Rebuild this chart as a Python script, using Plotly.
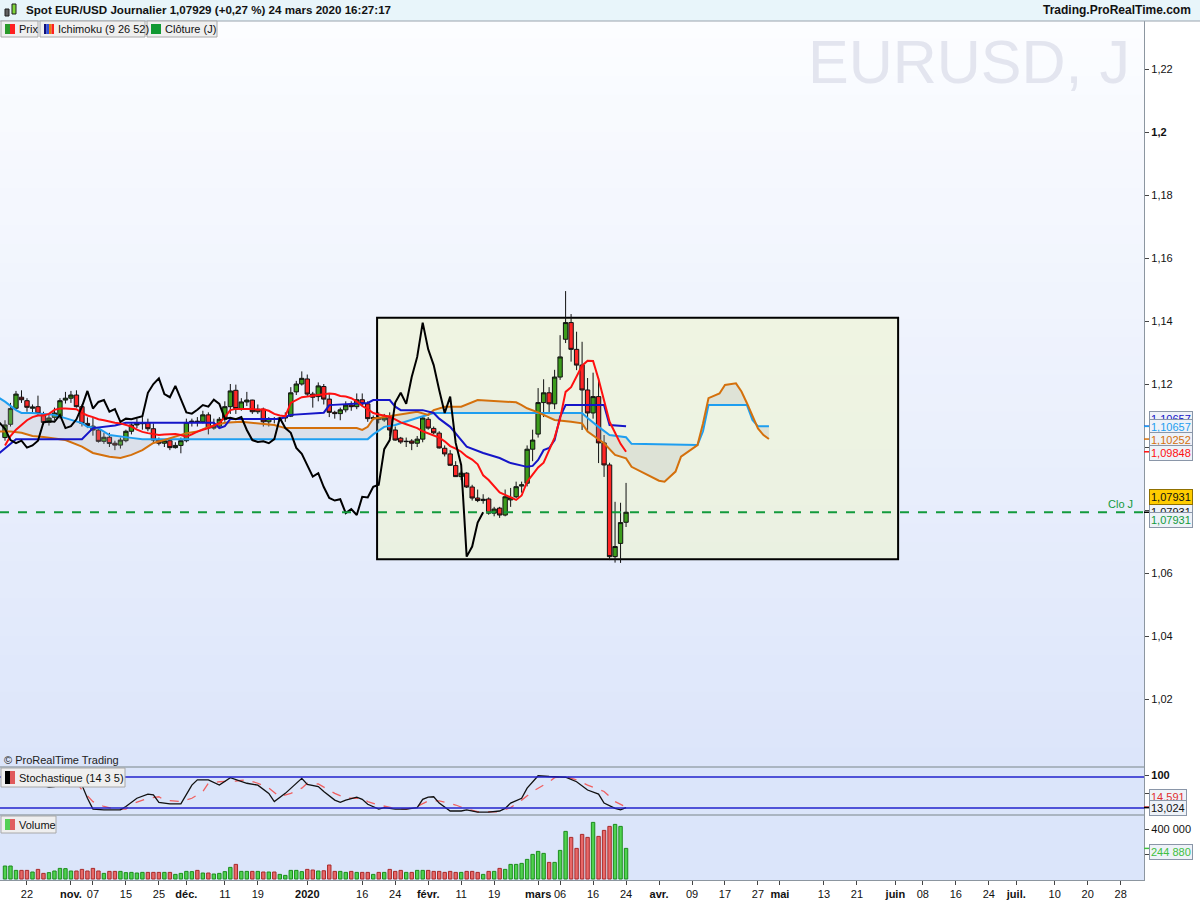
import pandas as pd
import plotly.graph_objects as go

# ---------------- DATA ----------------
# trading days (weekdays, 1 Jan 2020 closed); bar 0 = 16 Oct 2019, bar 113 = 24 Mar 2020
DAYS = [d for d in pd.bdate_range("2019-10-16", "2020-07-31") if d != pd.Timestamp("2020-01-01")]

OPEN = [1.1030, 1.1072, 1.1123, 1.1158, 1.1147, 1.1123, 1.1128, 1.1102, 1.1078, 1.1094,
        1.1096, 1.1149, 1.1155, 1.1165, 1.1128, 1.1075, 1.1066, 1.1054, 1.1018, 1.1031,
        1.1012, 1.1006, 1.1020, 1.1050, 1.1070, 1.1074, 1.1077, 1.1058, 1.1022, 1.1012,
        1.1020, 1.0998, 1.1005, 1.1020, 1.1078, 1.1082, 1.1080, 1.1102, 1.1060, 1.1066,
        1.1088, 1.1128, 1.1180, 1.1122, 1.1143, 1.1149, 1.1112, 1.1120, 1.1080, 1.1090,
        1.1088, 1.1092, 1.1098, 1.1175, 1.1200, 1.1216, 1.1168, 1.1160, 1.1192, 1.1152,
        1.1110, 1.1106, 1.1118, 1.1133, 1.1128, 1.1150, 1.1137, 1.1090, 1.1093, 1.1086,
        1.1093, 1.1054, 1.1028, 1.1017, 1.1019, 1.1012, 1.1025, 1.1088, 1.1059, 1.1044,
        1.0996, 1.0978, 1.0941, 1.0906, 1.0917, 1.0873, 1.0838, 1.0830, 1.0835, 1.0790,
        1.0806, 1.0784, 1.0832, 1.0842, 1.0876, 1.0885, 1.0993, 1.1041, 1.1141, 1.1172,
        1.1137, 1.1222, 1.1342, 1.1395, 1.1310, 1.1260, 1.1181, 1.1108, 1.1160, 1.1013,
        1.0943, 1.0652, 1.0694, 1.0761]
HIGH = [1.1085, 1.1140, 1.1178, 1.1180, 1.1155, 1.1135, 1.1163, 1.1112, 1.1105, 1.1125,
        1.1155, 1.1175, 1.1178, 1.1180, 1.1135, 1.1094, 1.1092, 1.1060, 1.1045, 1.1045,
        1.1020, 1.1030, 1.1055, 1.1075, 1.1090, 1.1095, 1.1090, 1.1075, 1.1030, 1.1025,
        1.1025, 1.1015, 1.1030, 1.1090, 1.1090, 1.1095, 1.1115, 1.1110, 1.1090, 1.1095,
        1.1145, 1.1200, 1.1198, 1.1155, 1.1175, 1.1150, 1.1135, 1.1125, 1.1095, 1.1095,
        1.1095, 1.1110, 1.1190, 1.1210, 1.1240, 1.1230, 1.1175, 1.1205, 1.1200, 1.1170,
        1.1115, 1.1125, 1.1145, 1.1145, 1.1170, 1.1170, 1.1145, 1.1100, 1.1110, 1.1105,
        1.1110, 1.1065, 1.1032, 1.1030, 1.1025, 1.1035, 1.1095, 1.1095, 1.1065, 1.1050,
        1.1005, 1.0990, 1.0955, 1.0925, 1.0920, 1.0880, 1.0865, 1.0850, 1.0840, 1.0810,
        1.0810, 1.0865, 1.0870, 1.0890, 1.0890, 1.1005, 1.1055, 1.1187, 1.1215, 1.1190,
        1.1245, 1.1355, 1.1495, 1.1422, 1.1366, 1.1334, 1.1219, 1.1236, 1.1219, 1.1038,
        1.0950, 1.0826, 1.0823, 1.0886]
LOW = [1.1020, 1.1065, 1.1118, 1.1140, 1.1112, 1.1105, 1.1100, 1.1070, 1.1068, 1.1085,
       1.1090, 1.1138, 1.1140, 1.1125, 1.1065, 1.1060, 1.1036, 1.1014, 1.1010, 1.1000,
       1.0990, 1.0995, 1.1015, 1.1040, 1.1060, 1.1055, 1.1050, 1.1015, 1.1005, 1.1000,
       1.0990, 1.0995, 1.0980, 1.1015, 1.1065, 1.1065, 1.1075, 1.1040, 1.1055, 1.1060,
       1.1080, 1.1105, 1.1105, 1.1115, 1.1130, 1.1105, 1.1105, 1.1065, 1.1065, 1.1075,
       1.1082, 1.1080, 1.1095, 1.1165, 1.1195, 1.1160, 1.1125, 1.1145, 1.1135, 1.1095,
       1.1090, 1.1085, 1.1110, 1.1115, 1.1120, 1.1130, 1.1080, 1.1085, 1.1075, 1.1080,
       1.1035, 1.1020, 1.1010, 1.1000, 1.0990, 1.1000, 1.1015, 1.1055, 1.1040, 1.0995,
       1.0970, 1.0940, 1.0905, 1.0895, 1.0870, 1.0830, 1.0825, 1.0820, 1.0785, 1.0780,
       1.0775, 1.0780, 1.0810, 1.0838, 1.0855, 1.0875, 1.0955, 1.1030, 1.1095, 1.1110,
       1.1120, 1.1213, 1.1330, 1.1271, 1.1244, 1.1054, 1.1048, 1.1090, 1.0949, 1.0905,
       1.0641, 1.0633, 1.0632, 1.0746]
CLOSE = [1.1070, 1.1122, 1.1168, 1.1150, 1.1126, 1.1127, 1.1106, 1.1078, 1.1092, 1.1108,
         1.1147, 1.1155, 1.1165, 1.1128, 1.1075, 1.1068, 1.1054, 1.1018, 1.1031, 1.1011,
         1.1006, 1.1022, 1.1050, 1.1070, 1.1076, 1.1077, 1.1058, 1.1022, 1.1012, 1.1020,
         1.0998, 1.1005, 1.1020, 1.1078, 1.1082, 1.1080, 1.1102, 1.1060, 1.1066, 1.1088,
         1.1128, 1.1178, 1.1122, 1.1143, 1.1149, 1.1112, 1.1120, 1.1080, 1.1090, 1.1088,
         1.1092, 1.1098, 1.1172, 1.1200, 1.1218, 1.1168, 1.1158, 1.1194, 1.1152, 1.1110,
         1.1106, 1.1118, 1.1133, 1.1128, 1.1150, 1.1137, 1.1090, 1.1093, 1.1088, 1.1095,
         1.1054, 1.1022, 1.1016, 1.1018, 1.1012, 1.1025, 1.1092, 1.1060, 1.1045, 1.0997,
         1.0978, 1.0942, 1.0906, 1.0917, 1.0873, 1.0838, 1.0830, 1.0834, 1.0790, 1.0803,
         1.0784, 1.0842, 1.0840, 1.0874, 1.0880, 1.0993, 1.1022, 1.1141, 1.1172, 1.1137,
         1.1222, 1.1286, 1.1395, 1.1310, 1.1260, 1.1181, 1.1108, 1.1160, 1.1013, 1.0943,
         1.0652, 1.0684, 1.0760, 1.07929]
VOLUME_K = [104, 104, 69, 69, 69, 56, 77, 45, 51, 64,
            85, 83, 64, 64, 77, 64, 85, 64, 45, 61,
            61, 61, 51, 53, 48, 53, 53, 53, 53, 53,
            53, 37, 45, 61, 59, 69, 48, 48, 40, 45,
            59, 93, 117, 61, 61, 61, 61, 56, 56, 56,
            37, 29, 69, 69, 59, 77, 72, 64, 66, 112,
            61, 61, 53, 61, 53, 53, 53, 37, 53, 53,
            77, 61, 69, 53, 53, 69, 69, 69, 61, 61,
            53, 61, 53, 53, 61, 61, 53, 37, 61, 61,
            85, 77, 117, 117, 125, 157, 197, 221, 205, 133,
            133, 229, 381, 333, 245, 357, 333, 453, 341, 389,
            421, 437, 421, 244.88]

# Ichimoku (9 26 52)
TENKAN = [1.1005, 1.1035, 1.1055, 1.1070, 1.1085, 1.1095, 1.1100, 1.1100, 1.1105, 1.1118,
          1.1122, 1.1122, 1.1122, 1.1120, 1.1108, 1.1100, 1.1095, 1.1088, 1.1085, 1.1080,
          1.1077, 1.1075, 1.1070, 1.1065, 1.1055, 1.1048, 1.1044, 1.1042, 1.1038, 1.1040,
          1.1040, 1.1041, 1.1038, 1.1033, 1.1040, 1.1049, 1.1055, 1.1060, 1.1068, 1.1076,
          1.1095, 1.1117, 1.1121, 1.1121, 1.1121, 1.1121, 1.1118, 1.1120, 1.1115, 1.1105,
          1.1100, 1.1098, 1.1140, 1.1150, 1.1158, 1.1160, 1.1162, 1.1165, 1.1168, 1.1170,
          1.1168, 1.1162, 1.1160, 1.1155, 1.1145, 1.1130, 1.1120, 1.1108, 1.1103, 1.1100,
          1.1096, 1.1088, 1.1078, 1.1072, 1.1065, 1.1060, 1.1050, 1.1043, 1.1035, 1.1030,
          1.1018, 1.1003, 1.0995, 1.0985, 1.0970, 1.0960, 1.0945, 1.0910, 1.0895, 1.0876,
          1.0856, 1.0848, 1.0840, 1.0832, 1.0846, 1.0890, 1.0912, 1.0935, 1.0950, 1.0990,
          1.1030, 1.1090, 1.1175, 1.1190, 1.1225, 1.1258, 1.1274, 1.1273, 1.1215, 1.1150,
          1.1080, 1.1045, 1.1010, 1.09848]
KIJUN_BAR = [-1, 0, 1, 2, 14, 15, 16, 20, 22, 38, 39, 40, 41, 50, 52, 58, 59, 66, 67, 70,
             71, 72, 76, 78, 79, 81, 84, 87, 90, 92, 95, 96, 97, 98, 99, 100, 101, 102, 109, 110, 113]
KIJUN = [1.0981, 1.0995, 1.1010, 1.1025, 1.1025, 1.1044, 1.1060, 1.1068, 1.1077, 1.1077,
         1.1060, 1.1066, 1.1089, 1.1089, 1.1102, 1.1109, 1.1133, 1.1140, 1.1149, 1.1149,
         1.1128, 1.1117, 1.1117, 1.1108, 1.1090, 1.1064, 1.1001, 1.0981, 1.0965, 1.0949,
         1.0937, 1.0940, 1.0959, 1.0990, 1.0997, 1.1022, 1.1096, 1.1133, 1.1133, 1.1070, 1.10657]
SSB_BAR = [-1, 0, 2, 3, 5, 9, 14, 15, 17, 19, 23, 25, 66, 67, 69, 71, 75, 78, 105, 106,
           108, 110, 113, 114, 126, 127, 128, 135, 136, 137, 139]
SSB = [1.1155, 1.1144, 1.1117, 1.1108, 1.1108, 1.1102, 1.1076, 1.1064, 1.1060, 1.1038,
       1.1029, 1.1025, 1.1025, 1.1040, 1.1064, 1.1070, 1.1092, 1.1108, 1.1108, 1.1092,
       1.1064, 1.1038, 1.1031, 1.1010, 1.1006, 1.1050, 1.1133, 1.1133, 1.1086, 1.10657, 1.10657]
SSA_BAR = [-1, 1, 3, 5, 7, 11, 14, 16, 19, 21, 23, 25, 27, 29, 33, 35, 37, 40, 43, 46,
           49, 51, 64, 65, 66, 67, 70, 75, 77, 78, 80, 83, 86, 88, 91, 93, 94, 95, 97, 100,
           103, 105, 106, 109, 111, 113, 114, 117, 119, 120, 121, 122, 123, 125, 126, 127, 128, 130, 131, 133,
           134, 135, 137, 138, 139]
SSA = [1.1049, 1.1049, 1.1045, 1.1035, 1.1032, 1.1022, 1.1001, 1.0981, 1.0969, 1.0965,
       1.0975, 1.0990, 1.1013, 1.1022, 1.1044, 1.1049, 1.1064, 1.1077, 1.1080, 1.1076,
       1.1070, 1.1060, 1.1060, 1.1054, 1.1064, 1.1090, 1.1099, 1.1112, 1.1102, 1.1117,
       1.1128, 1.1128, 1.1149, 1.1147, 1.1144, 1.1142, 1.1133, 1.1123, 1.1110, 1.1086,
       1.1080, 1.1075, 1.1049, 1.1012, 1.0975, 1.0964, 1.0937, 1.0911, 1.0893, 1.0890,
       1.0906, 1.0922, 1.0969, 1.0993, 1.1006, 1.1075, 1.1155, 1.1170, 1.1197, 1.1202,
       1.1176, 1.1139, 1.1059, 1.1038, 1.10252]
CHIKOU_SHIFT = 26
LAST_CLOSE = 1.07929

# Stochastic (14 3 5)
K_BAR = [0, 2, 4, 6, 8, 9, 11, 12, 14, 15, 16, 18, 21, 22, 24, 26, 27, 28, 30, 32,
         34, 35, 37, 39, 41, 44, 46, 48, 49, 51, 54, 55, 57, 58, 60, 61, 62, 64, 65, 66,
         68, 69, 71, 73, 75, 76, 77, 78, 79, 81, 83, 84, 86, 88, 90, 91, 92, 94, 95, 97,
         99, 101, 102, 104, 106, 108, 109, 111, 112, 113]
STOCH_K = [82, 88, 84, 78, 67, 69, 78, 87, 73, 38, 9, 7, 7, 16, 38, 49, 47, 27, 23, 23,
           73, 87, 87, 73, 93, 78, 73, 51, 29, 51, 91, 75, 69, 56, 33, 27, 33, 41, 35, 22,
           9, 13, 9, 9, 13, 35, 41, 42, 25, 4, 4, 7, 1, 1, 4, 11, 25, 38, 65, 98,
           96, 96, 94, 82, 60, 49, 25, 11, 7, 13.024]
D_BAR = [0, 3, 6, 9, 11, 13, 14, 16, 18, 20, 22, 23, 26, 28, 29, 32, 34, 36, 37, 39,
         42, 44, 46, 48, 50, 52, 54, 55, 57, 60, 62, 65, 66, 68, 71, 73, 75, 77, 79, 82,
         84, 86, 90, 92, 94, 96, 99, 100, 102, 104, 106, 109, 111, 113]
STOCH_D = [75, 82, 84, 78, 82, 82, 60, 29, 16, 9, 9, 22, 38, 42, 33, 29, 38, 56, 78, 82,
           84, 87, 78, 65, 42, 51, 65, 78, 76, 51, 38, 38, 29, 20, 11, 9, 16, 31, 31, 20,
           9, 2, 2, 13, 33, 56, 82, 93, 96, 87, 73, 56, 29, 14.591]
STOCH_LEVELS = [94.7, 12.0]

# analysis zone drawn on the chart (bars, prices)
ZONE_BARS = [67.7, 162.5]
ZONE_PRICES = [1.0644, 1.1410]

# axes
TICK_DATES = ["2019-10-22", "2019-11-01", "2019-11-07", "2019-11-15", "2019-11-25", "2019-12-02",
              "2019-12-11", "2019-12-19", "2020-01-02", "2020-01-16", "2020-01-24", "2020-02-03",
              "2020-02-11", "2020-02-19", "2020-03-02", "2020-03-06", "2020-03-16", "2020-03-24",
              "2020-04-01", "2020-04-09", "2020-04-17", "2020-04-27", "2020-05-01", "2020-05-13",
              "2020-05-21", "2020-06-01", "2020-06-08", "2020-06-16", "2020-06-24", "2020-07-01",
              "2020-07-10", "2020-07-20", "2020-07-28"]
TICK_TEXT = ["22", "nov.", "07", "15", "25", "déc.", "11", "19", "2020", "16", "24", "févr.",
             "11", "19", "mars", "06", "16", "24", "avr.", "09", "17", "27", "mai", "13",
             "21", "juin", "08", "16", "24", "juil.", "10", "20", "28"]
BOLD_TICKS = {"nov.", "déc.", "2020", "févr.", "mars", "avr.", "mai", "juin", "juil."}
PRICE_TICKS = [1.02, 1.04, 1.06, 1.08, 1.10, 1.12, 1.14, 1.16, 1.18, 1.20, 1.22]
PRICE_TEXT = ["1,02", "1,04", "1,06", "1,08", "1,1", "1,12", "1,14", "1,16", "1,18", "<b>1,2</b>", "1,22"]
VOL_TICKS = [200000, 400000]
VOL_TEXT = ["200 000", "400 000"]

# ---------------- LAYOUT HELPERS (pixels -> paper) ----------------
FONT = "Liberation Sans, Arial, sans-serif"
PLOT_W = 1144.0
TOP, BOT = 21.0, 880.0
H = BOT - TOP


def PX(px):
    return px / PLOT_W


def PY(py):
    return (BOT - py) / H


MAIN_BOTTOM_PX, STOCH_BOTTOM_PX = 767.0, 815.0

bars = list(range(len(OPEN)))
volume = [v * 1000 for v in VOLUME_K]
up = [c >= o for o, c in zip(OPEN, CLOSE)]
tick_pos = [DAYS.index(pd.Timestamp(d)) for d in TICK_DATES]
tick_txt = ["<b>%s</b>" % t if t in BOLD_TICKS else t for t in TICK_TEXT]

fig = go.Figure()

# kumo (senkou B then senkou A filled to it)
fig.add_trace(go.Scatter(x=SSB_BAR, y=SSB, mode="lines", line=dict(color="#1e9ef0", width=2),
                         xaxis="x", yaxis="y", hoverinfo="skip", showlegend=False))
fig.add_trace(go.Scatter(x=SSA_BAR, y=SSA, mode="lines", line=dict(color="#d4700c", width=2),
                         fill="tonexty", fillcolor="rgba(170,170,175,0.22)",
                         xaxis="x", yaxis="y", hoverinfo="skip", showlegend=False))

# candles
fig.add_trace(go.Candlestick(x=bars, open=OPEN, high=HIGH, low=LOW, close=CLOSE,
                             increasing=dict(fillcolor="#3c9c1c", line=dict(color="#111111", width=1)),
                             decreasing=dict(fillcolor="#ff2626", line=dict(color="#111111", width=1)),
                             whiskerwidth=0, xaxis="x", yaxis="y", hoverinfo="skip", showlegend=False))

# kijun, tenkan, chikou
fig.add_trace(go.Scatter(x=KIJUN_BAR, y=KIJUN, mode="lines", line=dict(color="#1515c8", width=2),
                         xaxis="x", yaxis="y", hoverinfo="skip", showlegend=False))
fig.add_trace(go.Scatter(x=bars, y=TENKAN, mode="lines", line=dict(color="#ff1010", width=2),
                         xaxis="x", yaxis="y", hoverinfo="skip", showlegend=False))
fig.add_trace(go.Scatter(x=[b - CHIKOU_SHIFT for b in bars], y=CLOSE, mode="lines",
                         line=dict(color="#000000", width=2),
                         xaxis="x", yaxis="y", hoverinfo="skip", showlegend=False))

# stochastic
fig.add_trace(go.Scatter(x=D_BAR, y=STOCH_D, mode="lines", line=dict(color="#f06060", width=1.3, dash="dash"),
                         xaxis="x", yaxis="y2", hoverinfo="skip", showlegend=False))
fig.add_trace(go.Scatter(x=K_BAR, y=STOCH_K, mode="lines", line=dict(color="#111111", width=1.3),
                         xaxis="x", yaxis="y2", hoverinfo="skip", showlegend=False))

# volume
fig.add_trace(go.Bar(x=bars, y=volume, width=0.62,
                     marker=dict(color=["#4fd24f" if u else "#e86868" for u in up],
                                 line=dict(color=["#1c8c1c" if u else "#a82a2a" for u in up], width=1)),
                     xaxis="x", yaxis="y3", hoverinfo="skip", showlegend=False))

shapes = []
# background gradient for the price panel
N_BANDS = 40
c0, c1 = (252, 253, 255), (220, 229, 250)
for k in range(N_BANDS):
    t = (k + 0.5) / N_BANDS
    col = tuple(round(c0[j] + (c1[j] - c0[j]) * t) for j in range(3))
    ya = TOP + (MAIN_BOTTOM_PX - TOP) * k / N_BANDS
    yb = TOP + (MAIN_BOTTOM_PX - TOP) * (k + 1) / N_BANDS
    shapes.append(dict(type="rect", xref="paper", yref="paper", x0=0, x1=1, y0=PY(yb), y1=PY(ya) + 0.001,
                       fillcolor="rgb(%d,%d,%d)" % col, line=dict(width=0), layer="below"))

# analysis zone
shapes.append(dict(type="rect", xref="x", yref="y", x0=ZONE_BARS[0], x1=ZONE_BARS[1],
                   y0=ZONE_PRICES[0], y1=ZONE_PRICES[1], fillcolor="rgba(240,246,200,0.5)",
                   line=dict(color="#000000", width=2), layer="below"))

# closing line
shapes.append(dict(type="line", xref="paper", yref="y", x0=0, x1=1, y0=LAST_CLOSE, y1=LAST_CLOSE,
                   line=dict(color="#139a3c", width=2, dash="dash")))

# stochastic levels
for lv in STOCH_LEVELS:
    shapes.append(dict(type="line", xref="paper", yref="y2", x0=0, x1=1, y0=lv, y1=lv,
                       line=dict(color="#2222cc", width=1.3)))

# panel separators
for py in (MAIN_BOTTOM_PX, STOCH_BOTTOM_PX):
    shapes.append(dict(type="line", xref="paper", yref="paper", x0=0, x1=1, y0=PY(py), y1=PY(py),
                       line=dict(color="#9aa4ae", width=1.5)))

# header band
shapes.append(dict(type="rect", xref="paper", yref="paper", x0=0, x1=1200 / PLOT_W, y0=PY(21), y1=PY(0),
                   fillcolor="#e8f5fa", line=dict(width=0)))
shapes.append(dict(type="line", xref="paper", yref="paper", x0=0, x1=1200 / PLOT_W, y0=PY(21), y1=PY(21),
                   line=dict(color="#9aa4ae", width=1.2)))
# header icon
shapes.append(dict(type="rect", xref="paper", yref="paper", x0=PX(5), x1=PX(9), y0=PY(16), y1=PY(9),
                   fillcolor="#606060", line=dict(color="#202020", width=1)))
shapes.append(dict(type="rect", xref="paper", yref="paper", x0=PX(12), x1=PX(16), y0=PY(14), y1=PY(4),
                   fillcolor="#7fd63a", line=dict(color="#202020", width=1)))


def label_box(x0, x1, y0, y1, icon_cols):
    shapes.append(dict(type="rect", xref="paper", yref="paper", x0=PX(x0), x1=PX(x1), y0=PY(y1), y1=PY(y0),
                       fillcolor="#efefef", line=dict(color="#a8a8a8", width=1)))
    n = len(icon_cols)
    w = 10.0 / n
    for i, c in enumerate(icon_cols):
        shapes.append(dict(type="rect", xref="paper", yref="paper",
                           x0=PX(x0 + 4 + i * w), x1=PX(x0 + 4 + (i + 1) * w),
                           y0=PY(y1 - 3), y1=PY(y0 + 3), fillcolor=c, line=dict(width=0)))


label_box(1, 38, 21, 37, ["#2a9a2a", "#ff2020"])
label_box(40, 145, 21, 37, ["#10107a", "#3050e0", "#e08010", "#ff2020"])
label_box(147, 217, 21, 37, ["#119933"])
label_box(1, 125, 768, 787, ["#000000", "#e05a5a"])
label_box(1, 56, 816, 833, ["#55d055", "#e06060"])

# value markers on the right axis
for val, col, yr in [(KIJUN[-1], "#1515c8", "y"), (SSB[-1], "#1e9ef0", "y"), (SSA[-1], "#d4700c", "y"),
                     (TENKAN[-1], "#ff1010", "y"), (LAST_CLOSE, "#000000", "y"),
                     (STOCH_D[-1], "#e03030", "y2"), (STOCH_K[-1], "#000000", "y2"),
                     (volume[-1], "#40c040", "y3")]:
    shapes.append(dict(type="line", xref="paper", yref=yr, x0=1.0, x1=PX(1150), y0=val, y1=val,
                       line=dict(color=col, width=1.5)))

ann = []
ann.append(dict(xref="paper", yref="paper", x=PX(24), y=PY(10), xanchor="left", yanchor="middle",
                text="<b>Spot EUR/USD Journalier 1,07929 (+0,27 %) 24 mars 2020 16:27:17</b>",
                showarrow=False, font=dict(family=FONT, size=11.6, color="#111111")))
ann.append(dict(xref="paper", yref="paper", x=PX(1193), y=PY(10), xanchor="right", yanchor="middle",
                text="<b>Trading.ProRealTime.com</b>", showarrow=False,
                font=dict(family=FONT, size=12, color="#111111")))
for tx, xx, yy in [("Prix", 17, 29), ("Ichimoku (9 26 52)", 56, 29), ("Clôture (J)", 163, 29),
                   ("Stochastique (14 3 5)", 17, 777.5), ("Volume", 17, 824.5)]:
    ann.append(dict(xref="paper", yref="paper", x=PX(xx), y=PY(yy), xanchor="left", yanchor="middle",
                    text=tx, showarrow=False, font=dict(family=FONT, size=11, color="#111111")))
ann.append(dict(xref="paper", yref="paper", x=PX(2), y=PY(760), xanchor="left", yanchor="middle",
                text="© ProRealTime Trading", showarrow=False, font=dict(family=FONT, size=11, color="#222222")))
ann.append(dict(xref="paper", yref="paper", x=PX(1132), y=PY(62), xanchor="right", yanchor="middle",
                text="EURUSD, J", showarrow=False, font=dict(family=FONT, size=61, color="#e3e5ef")))
ann.append(dict(xref="paper", yref="y", x=PX(1135), y=LAST_CLOSE, xanchor="right", yanchor="bottom",
                text="Clo J", showarrow=False, font=dict(family=FONT, size=11, color="#139a3c")))


def value_label(text, yref, ypos, color, bg="#eef2f8", border="#8a96a8"):
    ann.append(dict(xref="paper", yref=yref, x=PX(1149), y=ypos, xanchor="left", yanchor="middle",
                    text=text, showarrow=False, bgcolor=bg, bordercolor=border, borderwidth=1, borderpad=1,
                    font=dict(family=FONT, size=11, color=color)))


value_label("1,10657", "y", 1.1089, "#1515c8")
value_label("1,10657", "y", 1.10635, "#1e9ef0")
value_label("1,10252", "y", 1.1022, "#d4700c")
value_label("1,09848", "y", 1.0981, "#ff1010")
value_label("1,07931", "y", 1.0794, "#111111")
value_label("1,07931", "y", 1.0768, "#139a3c")
value_label("1,07931", "y", 1.0841, "#111111", bg="#ffcc00", border="#907000")
value_label("14,591", "y2", 41.0, "#e03030")
value_label("13,024", "y2", 13.0, "#111111")
value_label("244 880", "y3", 215000, "#40c040")

x_range = [-0.91, 207.24]
main_range = [1.06 - (MAIN_BOTTOM_PX - 573) / 3150, 1.06 + (573 - TOP) / 3150]
stoch_range = [(812.5 - STOCH_BOTTOM_PX) / 0.375, (812.5 - MAIN_BOTTOM_PX) / 0.375]
vol_range = [-(BOT - 879) * 8000, (879 - STOCH_BOTTOM_PX) * 8000]

axis_common = dict(side="right", anchor="x", showgrid=False, zeroline=False, showline=True,
                   linecolor="#8c96a0", linewidth=1.2, ticks="outside", ticklen=4, tickcolor="#444444",
                   tickfont=dict(family=FONT, size=11, color="#111111"), fixedrange=True)

fig.update_layout(
    width=1200, height=900,
    margin=dict(l=0, r=56, t=21, b=20, pad=0),
    paper_bgcolor="#ffffff", plot_bgcolor="#dbe5fa",
    showlegend=False, bargap=0.3, boxgap=0.12, boxgroupgap=0.1,
    font=dict(family=FONT, size=11, color="#111111"),
    xaxis=dict(range=x_range, anchor="y3", showgrid=False, zeroline=False, showline=True,
               linecolor="#8c96a0", linewidth=1.2, ticks="outside", ticklen=4, tickcolor="#444444",
               tickvals=tick_pos, ticktext=tick_txt, tickfont=dict(family=FONT, size=11, color="#111111"),
               rangeslider=dict(visible=False), fixedrange=True),
    yaxis=dict(domain=[PY(MAIN_BOTTOM_PX), 1], range=main_range, tickvals=PRICE_TICKS, ticktext=PRICE_TEXT,
               **axis_common),
    yaxis2=dict(domain=[PY(STOCH_BOTTOM_PX), PY(MAIN_BOTTOM_PX)], range=stoch_range,
                tickvals=[50, 100], ticktext=["50", "<b>100</b>"], **axis_common),
    yaxis3=dict(domain=[0, PY(STOCH_BOTTOM_PX)], range=vol_range, tickvals=VOL_TICKS, ticktext=VOL_TEXT,
                **axis_common),
    shapes=shapes, annotations=ann,
)

fig.write_html("out.html", config={"displayModeBar": False},
               post_script="document.body.style.margin='0';document.body.style.overflow='hidden';")
